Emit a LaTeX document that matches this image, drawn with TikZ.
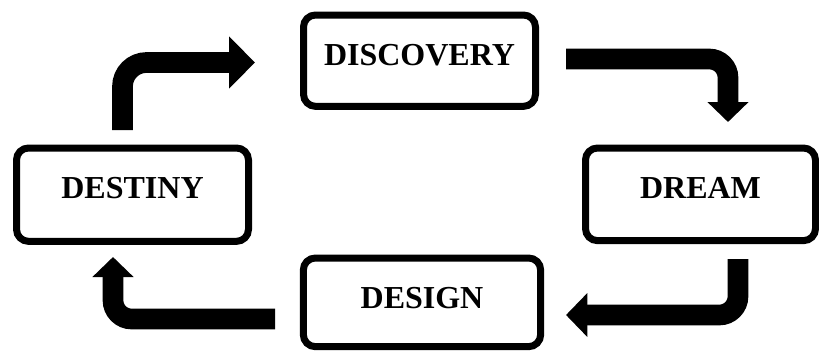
\documentclass[tikz,border=0pt]{standalone}
\usepackage{fontspec}
\setmainfont{Liberation Serif}
\usetikzlibrary{arrows.meta}

\tikzset{
	stage/.style={draw,line width=5.25pt,rounded corners=9pt,inner sep=0pt,
		text height=37.5pt,text depth=31pt,anchor=base,
		font=\fontsize{24}{28}\selectfont\bfseries},
	elbow/.style={line width=15.5pt,rounded corners=14pt}
}

\begin{document}
\begin{tikzpicture}[x=0.75pt,y=-0.75pt]
				\useasboundingbox (0,0) rectangle (819,351);
				\node[stage,minimum width=174pt] (discovery) at (419.5,65) {DISCOVERY};
				\node[stage,minimum width=172.5pt,text depth=32pt] (dream) at (700.5,198) {DREAM};
				\node[stage,minimum width=178pt,text depth=29pt] (design) at (422,308) {DESIGN};
				\node[stage,minimum width=174pt,text depth=32.5pt] (destiny) at (132.5,198) {DESTINY};
				\path
				(122.5,130) coordinate (s_1)
				(255,62.5) coordinate (e_1)
				(566,59) coordinate (s_2)
				(728,122) coordinate (e_2)
				(738,259) coordinate (s_3)
				(566,315) coordinate (e_3)
				(275,319) coordinate (s_4)
				(113,257) coordinate (e_4)
				;
				\draw[elbow,rounded corners=18pt,-{Triangle[width=38pt,length=19.5pt]}] (s_1) |- (e_1);
				\draw[elbow,-{Triangle[width=30pt,length=15pt]}] (s_2) -| (e_2);
				\draw[elbow,-{Triangle[width=32pt,length=16pt]}] (s_3) |- (e_3);
				\draw[elbow,-{Triangle[width=30pt,length=15pt]}] (s_4) -| (e_4);
			\end{tikzpicture}
\end{document}
